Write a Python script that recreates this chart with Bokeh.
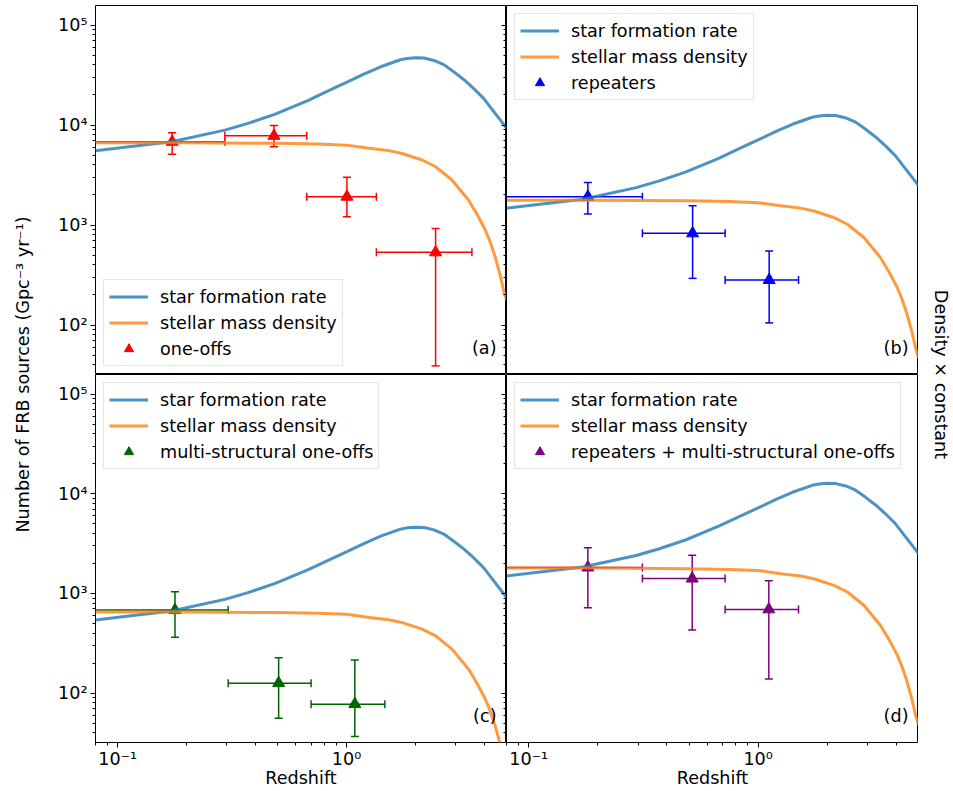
import math
from bokeh.plotting import figure
from bokeh.models import (ColumnDataSource, Legend, LegendItem, Label, LogAxis,
                          FixedTicker, CustomJSTickFormatter, Range1d)
from bokeh.layouts import row, column
from bokeh.embed import file_html
from bokeh.resources import INLINE

# ---- model curves; the other panels show the same curves x a constant
sfr_z = [0.08, 0.112, 0.172, 0.294, 0.371, 0.485, 0.677, 0.826, 1.01, 1.19, 1.41, 1.72,
         1.84, 2.0, 2.18, 2.41, 2.66, 2.94, 3.25, 3.59, 3.97, 4.24, 4.85, 5.0]
sfr_a = [5540, 6070, 6810, 8900, 10400, 12800, 17600, 21800, 27000, 32300, 38300, 45000,
         46400, 47100, 46800, 44300, 40200, 34100, 28600, 23300, 18500, 15200, 10200, 9300]
smd_z = [0.08, 0.2, 0.5, 0.75, 1.0, 1.256, 1.53, 1.75, 2.14, 2.45, 2.89, 3.41, 3.71,
         4.04, 4.24, 4.46, 4.69, 4.85, 5.0]
smd_a = [6650, 6650, 6560, 6450, 6300, 5850, 5550, 5200, 4470, 3830, 2820, 1780, 1290,
         891, 681, 482, 316, 224, 178]
panel_scale = [1.0, 0.266, 0.098, 0.27]

# ---- FRB data points (z, value, x-error bounds, y-error bounds)
oneoff_z = [0.173, 0.482, 1.004, 2.45]
oneoff_v = [6800, 7800, 1920, 533]
oneoff_zlo = [0.05, 0.294, 0.67, 1.35]
oneoff_zhi = [0.294, 0.67, 1.35, 3.53]
oneoff_vlo = [5100, 6060, 1210, 39]
oneoff_vhi = [8400, 9900, 3000, 926]

rep_z = [0.181, 0.518, 1.117]
rep_v = [1920, 826, 282]
rep_zlo = [0.05, 0.313, 0.718]
rep_zhi = [0.313, 0.718, 1.50]
rep_vlo = [1290, 293, 105]
rep_vhi = [2670, 1560, 550]

multi_z = [0.178, 0.505, 1.087]
multi_v = [681, 126, 77.6]
multi_zlo = [0.05, 0.304, 0.70]
multi_zhi = [0.304, 0.70, 1.47]
multi_vlo = [363, 56, 36.8]
multi_vhi = [1040, 227, 215]

comb_z = [0.181, 0.516, 1.113]
comb_v = [1820, 1410, 692]
comb_zlo = [0.05, 0.313, 0.718]
comb_zhi = [0.313, 0.718, 1.50]
comb_vlo = [718, 430, 139]
comb_vhi = [2880, 2420, 1340]

series_names = ["one-offs", "repeaters", "multi-structural one-offs",
                "repeaters + multi-structural one-offs"]
series_colors = ["red", "blue", "darkgreen", "purple"]
panel_tags = ["(a)", "(b)", "(c)", "(d)"]
series_data = [
    (oneoff_z, oneoff_v, oneoff_zlo, oneoff_zhi, oneoff_vlo, oneoff_vhi),
    (rep_z, rep_v, rep_zlo, rep_zhi, rep_vlo, rep_vhi),
    (multi_z, multi_v, multi_zlo, multi_zhi, multi_vlo, multi_vhi),
    (comb_z, comb_v, comb_zlo, comb_zhi, comb_vlo, comb_vhi),
]

x_major = [0.1, 1.0]
x_minor = [0.08, 0.09, 0.2, 0.3, 0.4, 0.5, 0.6, 0.7, 0.8, 0.9, 2, 3, 4, 5]
y_major = [1e2, 1e3, 1e4, 1e5]
y_minor = [m * 10 ** e for e in range(1, 5) for m in range(2, 10) if 32 <= m * 10 ** e <= 1.57e5]

FONT = "DejaVu Sans"
FS = "17.6px"
SFR_COLOR = "#1f77b4"
SMD_COLOR = "#ff7f0e"
FH_TOP = 369
FH_BOT = 368
TOP_PAD = 5
LEFT_LAB_W = 40
LEFT_BORDER = 55
RIGHT_LAB_W = 34

POW_CODE = """
const sup = {"-": "\u207b", "0": "\u2070", "1": "\u00b9", "2": "\u00b2", "3": "\u00b3",
             "4": "\u2074", "5": "\u2075", "6": "\u2076", "7": "\u2077", "8": "\u2078", "9": "\u2079"};
const e = Math.round(Math.log10(tick));
return "10" + String(e).split("").map(c => sup[c]).join("");
"""


def make_panel(i, left, bottom):
    fw = 411 if left else 412
    fh = FH_BOT if bottom else FH_TOP
    p = figure(frame_width=fw, frame_height=fh, title=None,
               x_axis_type="log", y_axis_type="log",
               x_range=Range1d(0.08, 5.0), y_range=Range1d(32, 1.57e5),
               x_axis_location="below" if bottom else None,
               y_axis_location="left" if left else None,
               toolbar_location=None, output_backend="svg",
               min_border_left=LEFT_BORDER if left else 0, min_border_right=0,
               min_border_top=0 if bottom else TOP_PAD, min_border_bottom=0)
    p.outline_line_color = "black"
    p.outline_line_width = 1
    p.outline_line_alpha = 1
    p.grid.visible = False
    p.background_fill_color = "white"
    p.border_fill_color = "white"

    if left:
        ax = p.yaxis[0]
        ax.ticker = FixedTicker(ticks=y_major, minor_ticks=y_minor)
        ax.formatter = CustomJSTickFormatter(code=POW_CODE)
        ax.major_tick_out = 5
        ax.major_tick_in = 0
        ax.minor_tick_out = 3
        ax.minor_tick_in = 0
        ax.major_label_text_font = FONT
        ax.major_label_text_font_size = FS
        ax.major_label_text_color = "black"
        ax.major_label_standoff = 3
        ax.axis_line_color = None
        # ticks of the neighbouring (right) panel's shared y axis, pointing left
        rax = LogAxis(ticker=FixedTicker(ticks=y_major, minor_ticks=y_minor),
                      formatter=CustomJSTickFormatter(code='return "";'),
                      major_tick_in=5, major_tick_out=0, minor_tick_in=3, minor_tick_out=0,
                      major_label_standoff=0, axis_line_color=None)
        p.add_layout(rax, "right")
    if bottom:
        ax = p.xaxis[0]
        ax.ticker = FixedTicker(ticks=x_major, minor_ticks=x_minor)
        ax.formatter = CustomJSTickFormatter(code=POW_CODE)
        ax.major_tick_out = 5
        ax.major_tick_in = 0
        ax.minor_tick_out = 3
        ax.minor_tick_in = 0
        ax.major_label_text_font = FONT
        ax.major_label_text_font_size = FS
        ax.major_label_text_color = "black"
        ax.major_label_standoff = 1
        ax.axis_label = "Redshift"
        ax.axis_label_text_font = FONT
        ax.axis_label_text_font_size = FS
        ax.axis_label_text_font_style = "normal"
        ax.axis_label_text_color = "black"
        ax.axis_label_standoff = -4
        ax.axis_line_color = None

    c = series_colors[i]
    z, v, zlo, zhi, vlo, vhi = series_data[i]
    src = ColumnDataSource(dict(z=z, v=v, zlo=zlo, zhi=zhi, vlo=vlo, vhi=vhi))
    p.segment(x0="zlo", y0="v", x1="zhi", y1="v", source=src, line_color=c, line_width=1.5)
    p.segment(x0="z", y0="vlo", x1="z", y1="vhi", source=src, line_color=c, line_width=1.5)
    for xf, yf, ang in (("z", "vlo", 0.0), ("z", "vhi", 0.0),
                        ("zlo", "v", math.pi / 2), ("zhi", "v", math.pi / 2)):
        p.scatter(x=xf, y=yf, source=src, marker="dash", size=8, angle=ang,
                  line_color=c, line_width=1.5)
    tri = p.scatter(x="z", y="v", source=src, marker="triangle", size=12,
                    fill_color=c, line_color=c)
    dummy = p.scatter(x=[], y=[], marker="cross", size=16, line_color=c, line_width=1.5)

    s = panel_scale[i]
    l1 = p.line(list(sfr_z), [val * s for val in sfr_a],
                line_color=SFR_COLOR, line_alpha=0.8, line_width=3)
    l2 = p.line(list(smd_z), [val * s for val in smd_a],
                line_color=SMD_COLOR, line_alpha=0.8, line_width=3)

    legend = Legend(items=[LegendItem(label="star formation rate", renderers=[l1]),
                           LegendItem(label="stellar mass density", renderers=[l2]),
                           LegendItem(label=series_names[i], renderers=[dummy, tri])],
                    location="bottom_left" if i == 0 else "top_left",
                    margin=8, padding=5, spacing=3,
                    glyph_width=39, glyph_height=23, label_height=23, label_standoff=12,
                    label_text_font=FONT, label_text_font_size=FS, label_text_color="black",
                    border_line_color="#cccccc", border_line_width=1,
                    background_fill_color="white", background_fill_alpha=0.8)
    p.add_layout(legend)

    p.add_layout(Label(x=fw - 10, y=27, x_units="screen", y_units="screen",
                       text=panel_tags[i], text_align="right", text_baseline="middle",
                       text_font=FONT, text_font_size=FS, text_color="black"))
    return p


pa = make_panel(0, True, False)
pb = make_panel(1, False, False)
pc = make_panel(2, True, True)
pd_ = make_panel(3, False, True)


def label_fig(width, cx, text, angle):
    f = figure(width=width, height=TOP_PAD + FH_TOP + FH_BOT, title=None, toolbar_location=None,
               x_axis_location=None, y_axis_location=None, output_backend="svg",
               min_border=0, x_range=Range1d(0, 1), y_range=Range1d(0, 1))
    f.outline_line_color = None
    f.grid.visible = False
    f.border_fill_color = "white"
    f.background_fill_color = "white"
    f.add_layout(Label(x=cx, y=FH_BOT, x_units="screen", y_units="screen", text=text,
                       angle=angle, text_align="center", text_baseline="middle",
                       text_font=FONT, text_font_size=FS, text_color="black"))
    return f


left_lab = label_fig(LEFT_LAB_W, 22, "Number of FRB sources (Gpc\u207b\u00b3 yr\u207b\u00b9)", math.pi / 2)
right_lab = label_fig(RIGHT_LAB_W, 22, "Density \u00d7 constant", -math.pi / 2)

grid = column(row(pa, pb), row(pc, pd_))
layout = row(left_lab, grid, right_lab)

open("out.html", "w").write(file_html(layout, INLINE))
